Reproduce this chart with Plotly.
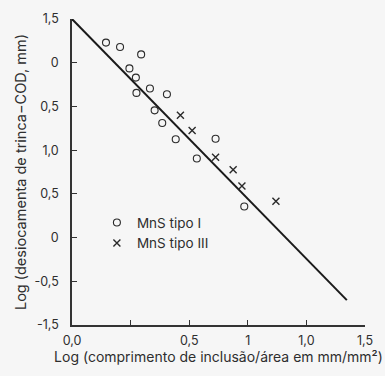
import plotly.graph_objects as go

# tick labels (as printed in the reference)
x_tickvals = [0, 1, 2, 3, 4, 5]
x_ticktext = ["0,0", "", "0,5", "1", "1,0", "1,5"]
y_tickvals = [0, 1, 2, 3, 4, 5, 6, 7]
y_ticktext = ["-1,5", "-0,5", "0", "0,5", "1,0", "0,5", "0", "1,5"]

# MnS tipo I (circles)
tipo1_x = [0.58, 0.82, 1.18, 0.98, 1.09, 1.10, 1.33, 1.62, 1.41, 1.54, 1.77, 2.45, 2.13, 2.94]
tipo1_y = [6.46, 6.36, 6.19, 5.87, 5.66, 5.31, 5.41, 5.28, 4.91, 4.62, 4.25, 4.26, 3.81, 2.71]

# MnS tipo III (crosses)
tipo3_x = [1.85, 2.05, 2.45, 2.75, 2.90, 3.48]
tipo3_y = [4.80, 4.45, 3.84, 3.55, 3.18, 2.83]

# regression line
line_x = [0.0, 4.69]
line_y = [7.0, 0.57]

ink = "#2a2a2a"
bg = "#f6f6f6"
font = "Inter"

fig = go.Figure()
fig.add_trace(go.Scatter(x=line_x, y=line_y, mode="lines",
                         line=dict(color="#1a1a1a", width=2), showlegend=False,
                         hoverinfo="skip", cliponaxis=False))
fig.add_trace(go.Scatter(x=tipo1_x, y=tipo1_y, mode="markers", name="MnS tipo I",
                         marker=dict(symbol="circle-open", size=7, color=ink,
                                     line=dict(width=1.1, color=ink))))
fig.add_trace(go.Scatter(x=tipo3_x, y=tipo3_y, mode="markers", name="MnS tipo III",
                         marker=dict(symbol="x-thin-open", size=7, color=ink,
                                     line=dict(width=1.4, color=ink))))

fig.update_layout(
    width=385, height=376,
    margin=dict(l=72, r=20, t=19, b=51),
    paper_bgcolor=bg, plot_bgcolor=bg,
    font=dict(family=font, size=12.5, color="#2e2e2e"),
    legend=dict(x=0.085, y=0.385, xanchor="left", yanchor="top",
                bgcolor="rgba(0,0,0,0)", font=dict(size=13.5, color="#2e2e2e"),
                itemwidth=30, tracegroupgap=0),
    xaxis=dict(range=[0, 5], tickvals=x_tickvals, ticktext=x_ticktext,
               showgrid=False, zeroline=False, showline=True, linecolor="#333333",
               linewidth=1.5, ticks="inside", ticklen=5, tickcolor="#333333",
               ticklabelstandoff=3,
               title=dict(text="Log (comprimento de inclusão/área em mm/mm²)",
                          font=dict(size=14), standoff=4)),
    yaxis=dict(range=[0, 7], tickvals=y_tickvals, ticktext=y_ticktext,
               showgrid=False, zeroline=False, showline=True, linecolor="#333333",
               linewidth=1.5, ticks="inside", ticklen=5, tickcolor="#333333",
               ticklabelstandoff=9,
               title=dict(text="Log (desiocamenta de trinca−COD, mm)",
                          font=dict(size=14.5), standoff=4)),
)

fig.write_html("out.html")
